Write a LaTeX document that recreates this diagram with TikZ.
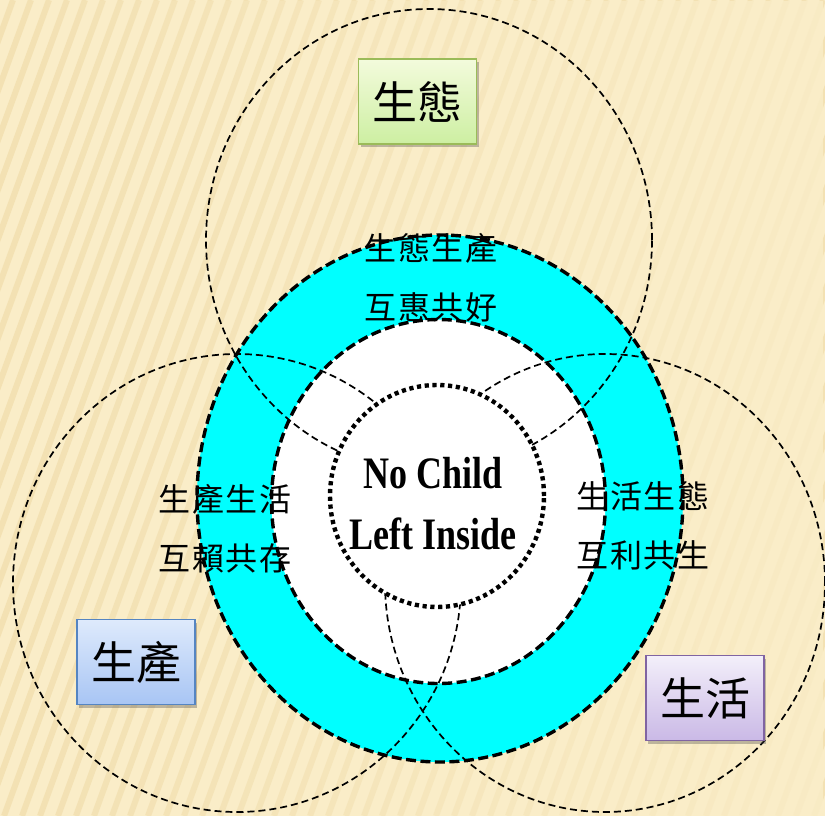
\documentclass[tikz,border=0pt]{standalone}
\usepackage{fontspec}
\usepackage{graphicx}
\setmainfont{Liberation Serif}
\newfontfamily\cjk{Noto Sans CJK TC}
\newfontfamily\cjkring{Noto Sans CJK TC}[LetterSpace=6]
\usetikzlibrary{shadows,fadings}
\definecolor{bgcol}{HTML}{FAEDC8}
\definecolor{stripecol}{HTML}{EBD49A}
\definecolor{ringcyan}{HTML}{00FFFF}
\definecolor{greentop}{HTML}{F3FBDC}
\definecolor{greenbot}{HTML}{CDEFA2}
\definecolor{greenline}{HTML}{9BBB59}
\definecolor{bluetop}{HTML}{DEEAFC}
\definecolor{bluebot}{HTML}{A8C5F4}
\definecolor{blueline}{HTML}{5585C2}
\definecolor{purptop}{HTML}{F3EFFA}
\definecolor{purpbot}{HTML}{CAB9E6}
\definecolor{purpline}{HTML}{8064A2}
\tikzfading[name=fadeR, left color=transparent!100, right color=transparent!15]
\tikzset{
  bigcircle/.style={draw=black, line width=1.7pt, dash pattern=on 7pt off 4pt},
  ringline/.style={draw=black, line width=3.4pt, dash pattern=on 10pt off 4.5pt},
  dotline/.style={draw=black, fill=white, line width=4.4pt, dash pattern=on 4.2pt off 3.6pt},
  labelbox/.style={draw, line width=1.8pt, minimum width=118pt, minimum height=85pt,
    inner sep=0pt, font=\cjk\fontsize{45}{50}\selectfont,
    drop shadow={shadow xshift=2pt, shadow yshift=-3pt, opacity=0.35, fill=black!70}},
  ringtext/.style={align=center, inner sep=0pt, font=\cjkring\fontsize{32}{59}\selectfont},
  nctext/.style={anchor=base, inner sep=0pt, font=\bfseries\fontsize{45}{50}\selectfont},
}
\begin{document}
\begin{tikzpicture}[x=1pt,y=-1pt]
\useasboundingbox (0,0) rectangle (825,816);
% background
\fill[bgcol] (0,0) rectangle (825,816);
\begin{scope}
  \clip (0,0) rectangle (825,816);
  \draw[stripecol, line width=6pt, opacity=0.45]
    foreach \x in {-320,-302,...,840} { (\x,816) -- ++(297,-816) };
\end{scope}
\fill[bgcol, path fading=fadeR] (0,0) rectangle (825,816);
% ring
\fill[ringcyan] (440,498.5) ellipse [x radius=243pt, y radius=263.5pt];
\fill[white] (438.5,501.5) ellipse [x radius=167pt, y radius=182pt];
% three big circles
\draw[bigcircle] (429,240) ellipse [x radius=223pt, y radius=231pt];
\draw[bigcircle] (237,583) ellipse [x radius=224pt, y radius=229pt];
\draw[bigcircle] (605,583) ellipse [x radius=220pt, y radius=229pt];
% ring outlines
\draw[ringline] (440,498.5) ellipse [x radius=243pt, y radius=263.5pt];
\draw[ringline] (438.5,501.5) ellipse [x radius=167pt, y radius=182pt];
% dotted centre
\path[dotline] (437,496) ellipse [x radius=107pt, y radius=111pt];
% centre text
\node[nctext] (nc1) at (433,488) {\scalebox{0.8}[1]{No Child}};
\node[nctext] (nc2) at (433,549) {\scalebox{0.8}[1]{Left Inside}};
% ring texts
\node[ringtext] (tt) at (431,278) {生態生產\\互惠共好};
\node[ringtext] (lt) at (225,529) {生產生活\\互賴共存};
\node[ringtext] (rt) at (643,526) {生活生態\\互利共生};
% label boxes
\node[labelbox, draw=greenline, top color=greentop, bottom color=greenbot] (eco) at (417.5,101.5) {生態};
\node[labelbox, draw=blueline, top color=bluetop, bottom color=bluebot] (prod) at (136,662) {生產};
\node[labelbox, draw=purpline, top color=purptop, bottom color=purpbot] (life) at (705,698) {生活};
\end{tikzpicture}
\end{document}
